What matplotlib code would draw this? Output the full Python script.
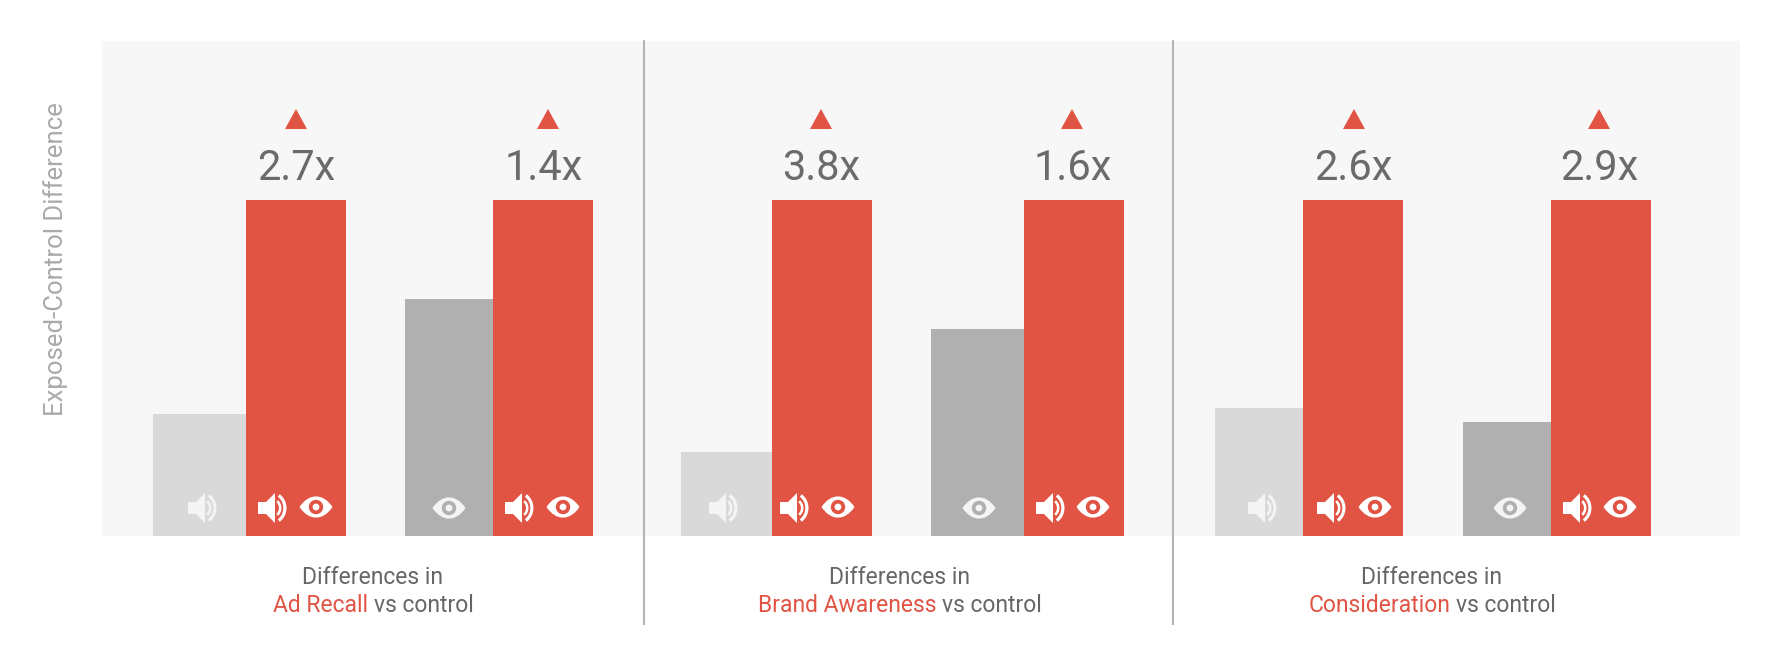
import matplotlib
matplotlib.use("Agg")
import matplotlib.pyplot as plt
from matplotlib.patches import Polygon, Wedge, Circle, PathPatch
from matplotlib.path import Path

plt.rcParams['font.family'] = ['Roboto', 'DejaVu Sans']

# chart values, bars are relative to the audio+visual bar
metrics = ["Ad Recall", "Brand Awareness", "Consideration"]
audio_only = [0.362, 0.25, 0.38]
audio_both = [1.0, 1.0, 1.0]
visual_only = [0.705, 0.615, 0.34]
visual_both = [1.0, 1.0, 1.0]
audio_lift = ["2.7x", "3.8x", "2.6x"]
visual_lift = ["1.4x", "1.6x", "2.9x"]

# layout, in figure pixels
W, H = 1772, 660
BOTTOM = 536
light_left = [153, 681, 1215]
red1_left = [246, 772, 1303]
gray_left = [405, 931, 1463]
red2_left = [493, 1024, 1551]
red_w = 100
lift1_x = [296, 821, 1353]
lift2_x = [544, 1073, 1599]
tri1_x = [296, 821, 1354]
tri2_x = [548, 1072, 1599]
label_x = [373, 900, 1432]
dividers = [644, 1173]
spk_light_x = [202, 723, 1262]
spk1_x = [272, 794, 1331]
eye1_x = [316, 838, 1375]
eye_gray_x = [449, 979, 1510]
spk2_x = [519, 1050, 1577]
eye2_x = [563, 1093, 1620]

RED = "#e15343"
LIGHT = "#d9d9d9"
GRAY = "#b0b0b0"
PANEL = "#f7f7f7"
TEXT = "#6b6b6b"
LABEL = "#666666"

fig = plt.figure(figsize=(W / 100, H / 100), dpi=100, facecolor="white")

# value axes for the bars
ax = fig.add_axes([102 / W, (H - BOTTOM) / H, 1638 / W, 495 / H], facecolor=PANEL)
ax.set_xlim(102, 1740)
ax.set_ylim(0, 495 / 336)
ax.set_xticks([])
ax.set_yticks([])
for s in ax.spines.values():
    s.set_visible(False)

ax.bar(light_left, audio_only, width=[r - l for l, r in zip(light_left, red1_left)], align="edge", color=LIGHT)
ax.bar(red1_left, audio_both, width=red_w, align="edge", color=RED)
ax.bar(gray_left, visual_only, width=[r - l for l, r in zip(gray_left, red2_left)], align="edge", color=GRAY)
ax.bar(red2_left, visual_both, width=red_w, align="edge", color=RED)

# overlay in pixel coordinates for icons and text
ov = fig.add_axes([0, 0, 1, 1])
ov.set_xlim(0, W)
ov.set_ylim(H, 0)
ov.axis("off")
ov.patch.set_alpha(0)


def speaker(cx, cy, color):
    ov.add_patch(Polygon([(cx - 14, cy - 6), (cx - 6, cy - 6), (cx + 3, cy - 15), (cx + 3, cy + 15),
                          (cx - 6, cy + 6), (cx - 14, cy + 6)], closed=True, fc=color, ec="none"))
    ov.add_patch(Wedge((cx - 1, cy), 10.5, -48, 48, width=2.6, fc=color, ec="none"))
    ov.add_patch(Wedge((cx - 3, cy), 17.5, -52, 52, width=3.2, fc=color, ec="none"))


def eye(cx, cy, bg, color="white"):
    hw, hh = 16.5, 10.5
    top = cy - hh * 1.35
    bot = cy + hh * 1.35
    verts = [(cx - hw, cy), (cx - 7, top), (cx + 7, top), (cx + hw, cy),
             (cx + 7, bot), (cx - 7, bot), (cx - hw, cy)]
    codes = [Path.MOVETO, Path.CURVE4, Path.CURVE4, Path.CURVE4, Path.CURVE4, Path.CURVE4, Path.CURVE4]
    ov.add_patch(PathPatch(Path(verts, codes), fc=color, ec="none"))
    ov.add_patch(Circle((cx, cy), 7.2, fc=bg, ec="none"))
    ov.add_patch(Circle((cx, cy), 3.4, fc=color, ec="none"))


def triangle(cx):
    ov.add_patch(Polygon([(cx - 11, 129), (cx + 11, 129), (cx, 109)], closed=True, fc=RED, ec="none"))


for i, name in enumerate(metrics):
    speaker(spk_light_x[i], 508, "#f4f4f4")
    speaker(spk1_x[i], 508, "white")
    eye(eye1_x[i], 507, RED)
    eye(eye_gray_x[i], 508, GRAY, "#f4f4f4")
    speaker(spk2_x[i], 508, "white")
    eye(eye2_x[i], 507, RED)

    triangle(tri1_x[i])
    triangle(tri2_x[i])
    ov.text(lift1_x[i], 180, audio_lift[i], fontsize=30, color=TEXT, ha="center", va="baseline")
    ov.text(lift2_x[i], 180, visual_lift[i], fontsize=30, color=TEXT, ha="center", va="baseline")

    ov.text(label_x[i], 584, "Differences in", fontsize=16.5, color=LABEL, ha="center", va="baseline")

    # second label line has a coloured first part
    r = fig.canvas.get_renderer()
    first = ov.text(0, 612, name, fontsize=16.5, color=RED, ha="left", va="baseline")
    second = ov.text(0, 612, "vs control", fontsize=16.5, color=LABEL, ha="left", va="baseline")
    w1 = first.get_window_extent(r).width
    w2 = second.get_window_extent(r).width
    x0 = label_x[i] - (w1 + w2 + 6) / 2
    first.set_x(x0)
    second.set_x(x0 + w1 + 6)

for x in dividers:
    ov.plot([x, x], [40, 625], color="#b5b5b5", lw=1.5, solid_capstyle="butt")

ov.text(56, 259, "Exposed-Control Difference", fontsize=18.5, color="#aaaaaa",
        rotation=90, ha="center", va="center")

fig.savefig("out.png", dpi=100)
